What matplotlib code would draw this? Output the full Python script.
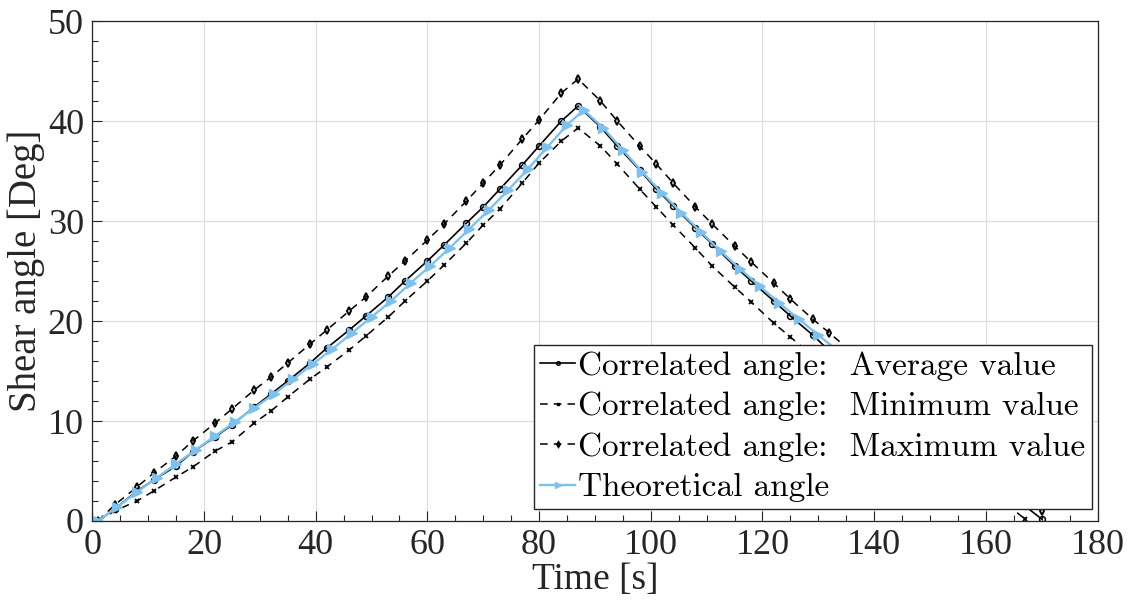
import matplotlib
matplotlib.use("Agg")
import matplotlib.pyplot as plt
from matplotlib.ticker import MultipleLocator

# ---------------- data ----------------
time_s = [1, 4, 8, 11, 15, 18, 22, 25, 29, 32, 35, 39, 42, 46, 49, 53, 56, 60, 63, 67,
          70, 73, 77, 80, 84, 87, 91, 94, 98, 101, 104, 108, 111, 115, 118, 122, 125, 129, 132, 136,
          139, 142, 146, 149, 153, 156, 160, 163, 167, 170]

avg_angle = [0.0, 1.2, 3.0, 4.1, 5.5, 6.9, 8.4, 9.6, 11.4, 12.7, 14.0, 15.8, 17.3, 19.1, 20.5, 22.4, 24.0, 26.0, 27.6, 29.8,
             31.4, 33.2, 35.6, 37.5, 40.0, 41.5, 39.4, 37.5, 35.1, 33.2, 31.5, 29.3, 27.7, 25.5, 24.0, 22.0, 20.5, 18.6, 17.0, 15.1,
             13.6, 12.3, 10.5, 9.1, 7.4, 6.2, 4.4, 3.2, 1.5, 0.2]

min_angle = [0.0, 1.0, 2.0, 3.0, 4.4, 5.4, 7.0, 7.9, 9.8, 11.0, 12.4, 14.2, 15.4, 17.1, 18.5, 20.4, 22.0, 24.0, 25.6, 27.8,
             29.6, 31.2, 33.8, 35.8, 38.0, 39.3, 37.5, 35.7, 33.2, 31.4, 29.6, 27.3, 25.5, 23.4, 21.9, 19.8, 18.4, 16.5, 15.2, 13.5,
             12.1, 10.6, 8.8, 7.3, 5.8, 4.6, 3.1, 2.0, 0.2, -1.2]

max_angle = [0.0, 1.6, 3.4, 4.8, 6.5, 8.0, 9.8, 11.2, 13.1, 14.4, 15.8, 17.7, 19.1, 21.0, 22.4, 24.5, 26.0, 28.1, 29.7, 32.0,
             33.8, 35.6, 38.2, 40.1, 42.8, 44.2, 42.0, 40.0, 37.5, 35.7, 33.8, 31.4, 29.7, 27.5, 25.9, 23.8, 22.2, 20.2, 18.8, 16.9,
             15.4, 14.0, 12.1, 10.7, 8.7, 7.3, 5.2, 3.8, 1.9, 1.0]

theo_time = [1, 4.5, 8, 11.5, 15, 18.5, 22, 25.5, 29, 32.5, 36, 39.5, 43, 46.5, 50, 53.5, 57, 60.5, 64, 67.5,
             71, 74.5, 78, 81.5, 85, 88, 91.5, 95, 98.5, 102, 105.5, 109, 112.5, 116, 119.5, 123, 126.5, 130, 133.5, 137,
             140.5, 144, 147.5, 151, 154.5, 158, 161.5, 165, 168.5]
theo_angle = [0.0, 1.4, 2.9, 4.3, 5.7, 7.1, 8.5, 9.9, 11.3, 12.7, 14.2, 15.7, 17.2, 18.8, 20.4, 22.0, 23.8, 25.5, 27.3, 29.2,
              31.1, 33.1, 35.2, 37.4, 39.6, 41.1, 39.3, 37.1, 34.9, 32.8, 30.8, 28.9, 27.0, 25.2, 23.5, 21.8, 20.2, 18.6, 17.0, 15.5,
              14.0, 12.5, 11.1, 9.7, 8.3, 6.9, 5.5, 4.1, 2.7]

labels = ["Correlated angle:  Average value",
          "Correlated angle:  Minimum value",
          "Correlated angle:  Maximum value",
          "Theoretical angle"]

# ---------------- figure ----------------
fig = plt.figure(figsize=(11.31, 6.09), dpi=100)
ax = fig.add_axes([0.0816, 0.1445, 0.8888, 0.821])

serif = ["Liberation Serif", "DejaVu Serif"]
dark = "#262626"
blue = "#7DC1EE"

ax.plot(time_s, avg_angle, color="black", lw=1.2, ls="-", marker="o", ms=4.2,
        mfc="none", mew=1.1, label=labels[0])
ax.plot(time_s, min_angle, color="black", lw=1.1, ls=(0, (5, 4)), marker="x", ms=3.2,
        mew=1.3, label=labels[1])
ax.plot(time_s, max_angle, color="black", lw=1.1, ls=(0, (5, 4)), marker="d", ms=4.2,
        mfc="none", mew=1.4, label=labels[2])
ax.plot(theo_time, theo_angle, color=blue, lw=1.7, ls="-", marker=">", ms=6.5,
        mfc=blue, mec=blue, label=labels[3])

ax.set_xlim(0, 180)
ax.set_ylim(0, 50)
ax.xaxis.set_major_locator(MultipleLocator(20))
ax.xaxis.set_minor_locator(MultipleLocator(5))
ax.yaxis.set_major_locator(MultipleLocator(10))
ax.yaxis.set_minor_locator(MultipleLocator(2))
ax.grid(True, which="major", color="#dedede", lw=0.9)
ax.set_axisbelow(True)

ax.tick_params(which="both", direction="in", colors=dark, top=False, right=False)
ax.tick_params(which="major", length=7, width=0.8, labelsize=26, pad=6)
ax.tick_params(which="minor", length=4.5, width=0.8)
for lab in ax.get_xticklabels() + ax.get_yticklabels():
    lab.set_fontfamily(serif)
for s in ax.spines.values():
    s.set_color(dark)
    s.set_linewidth(0.9)

ax.set_xlabel("Time [s]", fontsize=27, family=serif, color=dark, labelpad=0)
ax.set_ylabel("Shear angle [Deg]", fontsize=28, family=serif, color=dark, labelpad=2)

leg = ax.legend(loc="lower right", bbox_to_anchor=(0.9945, 0.024), borderaxespad=0,
                prop={"family": "cmr10", "size": 24}, handlelength=1.05, handletextpad=0.08,
                labelspacing=0.33, borderpad=0.2, fancybox=False, framealpha=1,
                edgecolor=dark, markerscale=0.6)
leg.get_frame().set_linewidth(1.0)

fig.savefig("out.png", dpi=100)
